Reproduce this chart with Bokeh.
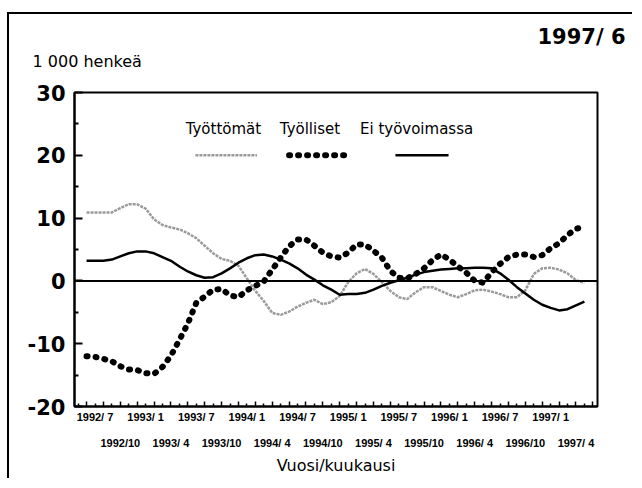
from bokeh.plotting import figure
from bokeh.models import (Range1d, FixedTicker, LinearAxis, Span, Label,
                          Title, ColumnDataSource)
from bokeh.embed import file_html
from bokeh.resources import INLINE

# ---- data: month offsets from 1992/7 (-1 = 1992/6 ... 58 = 1997/5) ----
months = list(range(-1, 59))

tyottomat = [10.9, 10.9, 10.9, 10.9, 11.6, 12.2, 12.2, 11.5, 9.8, 8.9,
             8.5, 8.2, 7.6, 6.8, 5.6, 4.4, 3.5, 3.2, 2.4, 0.4,
             -1.6, -3.2, -5.1, -5.4, -4.9, -4.1, -3.5, -3.0, -3.7, -3.4,
             -2.4, -0.2, 1.2, 1.9, 1.1, -0.2, -1.6, -2.6, -2.9, -1.8,
             -1.0, -1.0, -1.6, -2.2, -2.6, -2.1, -1.5, -1.4, -1.7, -2.1,
             -2.6, -2.6, -1.5, 1.1, 2.0, 2.1, 1.8, 1.2, 0.1, -0.3]

tyolliset = [-12.0, -12.1, -12.4, -12.8, -13.6, -14.1, -14.2, -14.7, -14.8, -13.7,
             -11.9, -9.4, -6.8, -3.5, -2.5, -1.4, -1.3, -2.3, -2.6, -1.5,
             -0.8, -0.1, 1.8, 3.7, 5.5, 6.6, 6.6, 5.6, 4.5, 3.9,
             3.7, 4.5, 5.8, 5.8, 4.8, 3.7, 1.6, 0.5, 0.4, 1.1,
             2.0, 3.3, 4.2, 3.4, 2.3, 1.3, 0.0, -0.3, 1.4, 2.7,
             3.8, 4.2, 4.2, 3.8, 4.1, 5.2, 6.0, 7.3, 8.3, 8.6]

ei_tyovoimassa = [3.2, 3.2, 3.2, 3.4, 3.9, 4.4, 4.7, 4.7, 4.4, 3.8,
                  3.2, 2.3, 1.5, 0.9, 0.5, 0.6, 1.2, 2.0, 2.9, 3.6,
                  4.1, 4.2, 3.9, 3.4, 2.8, 2.0, 1.0, 0.2, -0.7, -1.4,
                  -2.2, -2.1, -2.1, -1.9, -1.4, -0.8, -0.3, 0.1, 0.5, 1.0,
                  1.4, 1.6, 1.8, 1.9, 2.0, 2.0, 2.1, 2.1, 2.0, 1.2,
                  0.2, -1.0, -2.0, -3.0, -3.8, -4.3, -4.7, -4.5, -3.9, -3.3]

series_names = ["Työttömät", "Työlliset", "Ei työvoimassa"]

row1_months = [0, 6, 12, 18, 24, 30, 36, 42, 48, 54]
row1_labels = ["1992/ 7", "1993/ 1", "1993/ 7", "1994/ 1", "1994/ 7",
               "1995/ 1", "1995/ 7", "1996/ 1", "1996/ 7", "1997/ 1"]
row2_months = [3, 9, 15, 21, 27, 33, 39, 45, 51, 57]
row2_labels = ["1992/10", "1993/ 4", "1993/10", "1994/ 4", "1994/10",
               "1995/ 4", "1995/10", "1996/ 4", "1996/10", "1997/ 4"]

y_major = [-20, -10, 0, 10, 20, 30]
y_major_labels = ["-20", "-10", "0", "10", "20", "30"]
y_minor = [-15, -5, 5, 15, 25]

unit_text = "1 000 henkeä"
date_text = "1997/ 6"
x_title = "Vuosi/kuukausi"

# ---- figure ----
FONT = "DejaVu Sans"
TICKFONT = "Liberation Sans"

p = figure(width=625, height=466, output_backend="svg", toolbar_location=None,
           x_range=Range1d(-2.43, 59.55), y_range=Range1d(-20, 30),
           x_axis_type=None, y_axis_type=None,
           min_border_left=65, min_border_right=37, min_border_top=78,
           min_border_bottom=74)
p.styles = {"margin-left": "7px", "margin-top": "12px",
            "border-left": "2px solid black", "border-top": "2px solid black"}
p.xgrid.visible = False
p.ygrid.visible = False
p.outline_line_color = "black"
p.outline_line_width = 2
p.background_fill_color = "white"
p.border_fill_color = "white"

# titles: date (outermost) and unit label (closest to frame)
p.title.text = date_text
p.title.align = "right"
p.title.offset = -28
p.title.standoff = -40
p.title.text_font = FONT
p.title.text_font_style = "bold"
p.title.text_font_size = "21px"
p.title.text_color = "black"
p.add_layout(Title(text=unit_text, align="left", offset=-42, standoff=43,
                   text_font=FONT, text_font_style="normal",
                   text_font_size="16px", text_color="black"), "above")

# y axis
yax = LinearAxis(ticker=FixedTicker(ticks=y_major, minor_ticks=y_minor))
yax.major_label_overrides = {t: l for t, l in zip(y_major, y_major_labels)}
yax.axis_line_width = 2
yax.major_tick_in = 8
yax.major_tick_out = 0
yax.minor_tick_in = 4
yax.minor_tick_out = 0
yax.major_tick_line_width = 2
yax.minor_tick_line_width = 2
yax.major_label_standoff = 9
yax.major_label_text_font = FONT
yax.major_label_text_font_style = "bold"
yax.major_label_text_font_size = "21px"
yax.major_label_text_color = "black"
p.add_layout(yax, "left")

# x axis: tick marks only
odd_months = list(range(-1, 60, 2))
even_months = list(range(-2, 60, 2))
xax = LinearAxis(ticker=FixedTicker(ticks=odd_months, minor_ticks=even_months))
xax.axis_line_width = 2
xax.major_tick_in = 5
xax.major_tick_out = 0
xax.minor_tick_in = 3
xax.minor_tick_out = 0
xax.major_tick_line_width = 1.5
xax.minor_tick_line_width = 1.5
xax.major_label_text_font_size = "1px"
xax.major_label_text_color = None
xax.major_label_standoff = 0
p.add_layout(xax, "below")

def label_axis(ticks, labels, standoff, axis_label=None):
    ax = LinearAxis(ticker=FixedTicker(ticks=ticks, minor_ticks=[]))
    ax.major_label_overrides = {t: l for t, l in zip(ticks, labels)}
    ax.axis_line_color = None
    ax.major_tick_line_color = None
    ax.minor_tick_line_color = None
    ax.major_tick_in = 0
    ax.major_tick_out = 0
    ax.major_label_standoff = standoff
    ax.major_label_text_font = TICKFONT
    ax.major_label_text_font_style = "bold"
    ax.major_label_text_font_size = "11px"
    ax.major_label_text_color = "black"
    if axis_label:
        ax.axis_label = axis_label
        ax.axis_label_text_font = FONT
        ax.axis_label_text_font_style = "normal"
        ax.axis_label_text_font_size = "16px"
        ax.axis_label_standoff = 4
        ax.axis_label_text_color = "black"
    p.add_layout(ax, "below")

label_axis(row1_months, row1_labels, 4)
label_axis(row2_months, row2_labels, 11, x_title)

# zero line
p.add_layout(Span(location=0, dimension="width", line_color="black", line_width=2))

src = ColumnDataSource(dict(m=months, a=tyottomat, b=tyolliset, c=ei_tyovoimassa))

gray_style = dict(line_color="#9a9a9a", line_width=2.5, line_dash="3 1")
dot_style = dict(line_color="black", line_width=6, line_dash="1 8", line_cap="round")
black_style = dict(line_color="black", line_width=2.5)

p.line("m", "a", source=src, **gray_style)
p.line("m", "c", source=src, **black_style)
p.line("m", "b", source=src, **dot_style)

# legend (manual, laid out in data space)
leg_text_y = 24.2
leg_text_x = [10.74, 21.9, 31.4]
leg_sample_y = 20
leg_sample_x = [(11.9, 19.2), (23.0, 29.7), (35.6, 41.9)]
for name, tx, (x0, x1), st in zip(series_names, leg_text_x, leg_sample_x,
                                   [gray_style, dot_style, black_style]):
    p.add_layout(Label(x=tx, y=leg_text_y, text=name, text_font=FONT,
                       text_font_size="15px", text_color="black",
                       text_baseline="alphabetic"))
    p.line([x0, x1], [leg_sample_y, leg_sample_y], **st)

open("out.html", "w").write(file_html(p, INLINE))
